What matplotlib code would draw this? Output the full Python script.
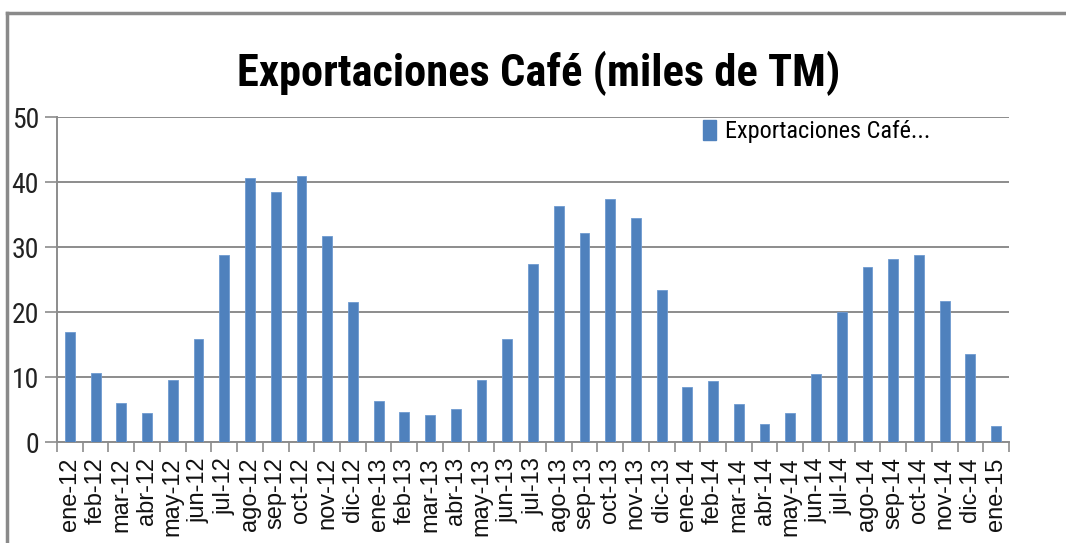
import matplotlib.pyplot as plt
import numpy as np
from matplotlib.lines import Line2D
from matplotlib.patches import Patch

# month labels ene-12 .. ene-15
months = ["ene-12", "feb-12", "mar-12", "abr-12", "may-12", "jun-12", "jul-12",
          "ago-12", "sep-12", "oct-12", "nov-12", "dic-12",
          "ene-13", "feb-13", "mar-13", "abr-13", "may-13", "jun-13", "jul-13",
          "ago-13", "sep-13", "oct-13", "nov-13", "dic-13",
          "ene-14", "feb-14", "mar-14", "abr-14", "may-14", "jun-14", "jul-14",
          "ago-14", "sep-14", "oct-14", "nov-14", "dic-14",
          "ene-15"]

# exports, thousands of tonnes
exports = [17.0, 10.6, 6.0, 4.4, 9.6, 15.8, 28.7,
           40.6, 38.4, 41.0, 31.7, 21.5,
           6.3, 4.6, 4.2, 5.1, 9.6, 15.8, 27.4,
           36.3, 32.2, 37.4, 34.4, 23.4,
           8.5, 9.4, 5.8, 2.7, 4.4, 10.5, 20.0,
           27.0, 28.2, 28.7, 21.7, 13.6,
           2.5]

yticks = [0, 10, 20, 30, 40, 50]

narrow = ['DejaVu Sans Condensed', 'Liberation Sans Narrow', 'Roboto Condensed',
          'Open Sans Condensed', 'DejaVu Sans']
arial = ['Liberation Sans', 'DejaVu Sans']
bar_color = '#4F81BD'
grid_color = '#8C8C8C'

fig = plt.figure(figsize=(10.66, 5.43), dpi=100)
ax = fig.add_axes([0.0535, 0.186, 0.893, 0.5985])

x = np.arange(len(months))
ax.bar(x, exports, width=0.38, color=bar_color, edgecolor='#6E9AD0',
       linewidth=0.6, zorder=3, label="Exportaciones Café...")

ax.set_xlim(-0.5, len(months) - 0.5)
ax.set_ylim(0, 50)
ax.set_yticks(yticks)
ax.set_yticklabels([str(v) for v in yticks], family=narrow, fontsize=20,
                   color='#222222')
ax.yaxis.grid(True, color=grid_color, linewidth=1.4, zorder=0)

ax.set_xticks(x)
ax.set_xticklabels(months, rotation=90, family=arial, fontsize=17,
                   color='#111111')
ax.set_xticks(np.arange(-0.5, len(months)), minor=True)
ax.tick_params(axis='x', which='major', length=0, pad=11)
ax.tick_params(axis='x', which='minor', length=7, width=1.2, color=grid_color)
ax.tick_params(axis='y', length=9, width=1.2, color=grid_color, pad=4)

for side in ['top', 'right']:
    ax.spines[side].set_visible(False)
for side in ['left', 'bottom']:
    ax.spines[side].set_color(grid_color)
    ax.spines[side].set_linewidth(1.4)

ax.legend(handles=[Patch(color=bar_color, label="Exportaciones Café...")],
          loc='upper left', bbox_to_anchor=(0.668, 1.02), frameon=False,
          prop={'family': narrow, 'size': 17.5}, handlelength=0.55,
          handleheight=0.85, handletextpad=0.35, borderaxespad=0)

fig.text(0.505, 0.865, "Exportaciones Café (miles de TM)", ha='center',
         va='center', family=narrow, fontweight='bold', fontsize=32,
         color='black')

# outer chart frame
fig.add_artist(Line2D([0.0066, 1.0], [0.976, 0.976], color='#8A8A8A',
                      linewidth=2.5))
fig.add_artist(Line2D([0.0066, 0.0066], [0.0, 0.976], color='#8A8A8A',
                      linewidth=2.5))

fig.savefig('out.png', dpi=100)
